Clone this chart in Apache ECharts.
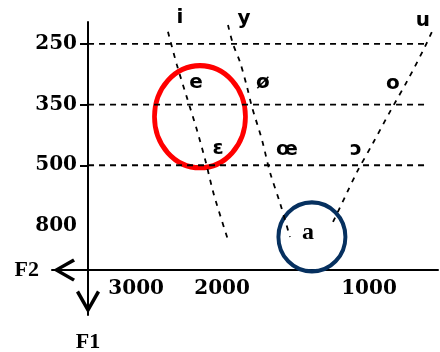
<!DOCTYPE html>
<html>
<head>
<meta charset="utf-8">
<script src="https://cdn.jsdelivr.net/npm/echarts@6/dist/echarts.min.js"></script>
<style>
html, body { margin: 0; padding: 0; background: #fff; }
#chart { width: 440px; height: 352px; }
</style>
</head>
<body>
<div id="chart"></div>
<script>
// F1 (Hz) ticks on the vertical axis, top to bottom
var f1Ticks = [250, 350, 500, 800];
var f1Guides = [250, 350, 500];
var guideF2 = [3765, 760];
// F2 (Hz) ticks on the horizontal axis
var f2Ticks = [3000, 2000, 1000];

var vowels = ['i', 'y', 'u', 'e', 'ø', 'o', 'ɛ', 'œ', 'ɔ', 'a'];
var vowelF2 = [2440, 1804, 775, 2262, 1649, 893, 2039, 1472, 1063, 1334];
var vowelF1 = [207, 209, 212, 314, 314, 316, 460, 462, 462, 835];

// dashed curves, [F2, F1]
var frontCurve = [[2582, 230], [2475, 285], [2360, 339], [2252, 413], [2158, 494], [2078, 647], [1945, 869]];
var roundCurve = [[1945, 219], [1900, 250], [1838, 280], [1778, 321], [1737, 356], [1657, 437], [1596, 533], [1522, 686], [1452, 854]];
var backCurve = [[1185, 780], [1110, 637], [1058, 533], [981, 445], [906, 368], [832, 309], [768, 255], [740, 227]];

var redCircle = [2220, 380];
var blueCircle = [1309, 854];

// the F1 scale of the drawing is ordinal: ticks are evenly spaced
function f1ToLevel(v) {
    var t = f1Ticks;
    if (v <= t[1]) return (v - t[0]) / (t[1] - t[0]);
    for (var i = 1; i < t.length - 1; i++) {
        if (v <= t[i + 1]) return i + (v - t[i]) / (t[i + 1] - t[i]);
    }
    var n = t.length - 1;
    return n + (v - t[n]) / (t[n] - t[n - 1]);
}
function toPts(arr) {
    return arr.map(function (p) { return [p[0], f1ToLevel(p[1])]; });
}

var serif = 'Liberation Serif';
var tickFont = {color: '#000', fontFamily: 'DejaVu Serif', fontWeight: 'bold', fontSize: 20};
var arrow = 'path://M12,0 L24,21 L21,23 L12,7 L3,23 L0,21 Z';
var dash = {color: '#000', width: 1.8, type: [5, 6]};

var series = [];
f1Guides.forEach(function (f1) {
    series.push({
        type: 'line',
        data: [[guideF2[0], f1ToLevel(f1)], [guideF2[1], f1ToLevel(f1)]],
        showSymbol: false,
        lineStyle: {color: '#000', width: 1.8, type: [6, 5]}
    });
});
[frontCurve, roundCurve, backCurve].forEach(function (c) {
    series.push({
        type: 'line',
        data: toPts(c),
        smooth: 0.3,
        showSymbol: false,
        lineStyle: dash
    });
});
series.push({
    type: 'scatter',
    clip: false,
    symbolSize: 1,
    itemStyle: {color: 'rgba(0,0,0,0)', opacity: 1},
    label: {
        show: true,
        position: 'inside',
        formatter: '{b}',
        color: '#000',
        textBorderWidth: 0,
        fontFamily: 'DejaVu Sans',
        fontWeight: 'bold',
        fontSize: 20
    },
    data: vowels.map(function (v, i) {
        var item = {name: v, value: [vowelF2[i], f1ToLevel(vowelF1[i])]};
        if (v === 'a') item.label = {fontFamily: serif, fontSize: 24};
        return item;
    })
});
series.push({
    type: 'scatter',
    clip: false,
    symbol: 'circle',
    symbolSize: [91, 102],
    itemStyle: {color: 'rgba(0,0,0,0)', opacity: 1, borderColor: '#ff0000', borderWidth: 5},
    data: [[redCircle[0], f1ToLevel(redCircle[1])]]
});
series.push({
    type: 'scatter',
    clip: false,
    symbol: 'circle',
    symbolSize: [67, 69],
    itemStyle: {color: 'rgba(0,0,0,0)', opacity: 1, borderColor: '#06305f', borderWidth: 4},
    data: [[blueCircle[0], f1ToLevel(blueCircle[1])]]
});

var chart = echarts.init(document.getElementById('chart'));
chart.setOption({
    animation: false,
    grid: {left: 52, right: 2, top: 22, bottom: 37, outerBoundsMode: 'none'},
    xAxis: {
        type: 'log',
        logBase: 10,
        inverse: true,
        min: 722,
        max: 4463,
        offset: -45,
        name: 'F2',
        nameLocation: 'end',
        nameGap: 13,
        nameTextStyle: {color: '#000', fontFamily: serif, fontWeight: 'bold', fontSize: 22},
        axisLine: {
            onZero: false,
            lineStyle: {color: '#000', width: 2},
            symbol: [arrow, 'none'],
            symbolSize: [23, 24],
            symbolOffset: [12, 0]
        },
        axisTick: {show: false},
        splitLine: {show: false},
        axisLabel: Object.assign({
            customValues: f2Ticks,
            formatter: function (v) { return String(Math.round(v)); },
            margin: 9
        }, tickFont)
    },
    yAxis: {
        type: 'value',
        inverse: true,
        min: f1ToLevel(214),
        max: f1ToLevel(1240),
        offset: -36,
        name: 'F1',
        nameLocation: 'end',
        nameGap: 16,
        nameTextStyle: {color: '#000', fontFamily: serif, fontWeight: 'bold', fontSize: 22},
        axisLine: {
            onZero: false,
            lineStyle: {color: '#000', width: 2},
            symbol: [arrow, 'none'],
            symbolSize: [24, 26],
            symbolOffset: [13, 0]
        },
        axisTick: {
            show: true,
            customValues: f1Guides.map(f1ToLevel),
            length: 8,
            lineStyle: {color: '#000', width: 2}
        },
        splitLine: {show: false},
        axisLabel: Object.assign({
            customValues: f1Ticks.map(f1ToLevel),
            formatter: function (v) { return String(f1Ticks[Math.round(v)]); },
            margin: 11
        }, tickFont)
    },
    series: series
});
</script>
</body>
</html>
